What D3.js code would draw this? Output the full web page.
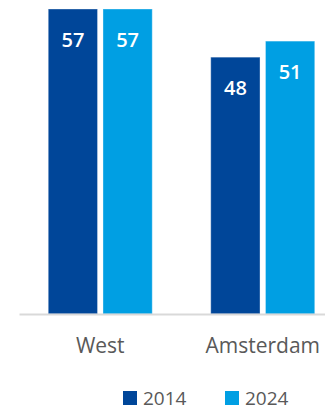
<!DOCTYPE html>
<html>
<head>
	<meta charset="utf-8">
	<script src="https://d3js.org/d3.v7.min.js"></script>
	<style>
		body { margin: 0; background: #fff; }
		text { font-family: "Open Sans", sans-serif; }
	</style>
</head>
<body>
	<div id="chart"></div>
	<script>

	// data
	const categories = ["West", "Amsterdam"]
	const years = ["2014", "2024"]
	const values2014 = [57, 48]
	const values2024 = [57, 51]
	const colors = ["#004699", "#009fe3"]

	const width = 325
	const height = 412
	const baseline = 314

	const rows = categories.map((c, i) => ({
		name: c,
		vals: [
			{ year: years[0], value: values2014[i] },
			{ year: years[1], value: values2024[i] }
		]
	}))

	const svg = d3.select("#chart")
	  .append("svg")
	    .attr("width", width)
	    .attr("height", height)

	// group scale runs past the right edge, like the original
	const x0 = d3.scaleBand()
		.domain(categories)
		.range([19, 344])

	const x1 = d3.scaleBand()
		.domain(years)
		.range([-52, 52])
		.paddingInner(0.1)

	const y = d3.scaleLinear()
		.domain([0, 57])
		.range([baseline, 9])

	const color = d3.scaleOrdinal().domain(years).range(colors)

	const groups = svg.append("g")
	  .selectAll("g")
	  .data(rows)
	  .join("g")
	    .attr("transform", d => `translate(${x0(d.name) + x0.bandwidth() / 2},0)`)

	groups.selectAll("rect")
	  .data(d => d.vals)
	  .join("rect")
	    .attr("x", d => x1(d.year))
	    .attr("y", d => y(d.value))
	    .attr("width", x1.bandwidth())
	    .attr("height", d => baseline - y(d.value))
	    .attr("fill", d => color(d.year))
	    .attr("stroke", "#ffffff")
	    .attr("stroke-opacity", 0.35)
	    .attr("stroke-width", 1)

	groups.selectAll("text.val")
	  .data(d => d.vals)
	  .join("text")
	    .attr("class", "val")
	    .attr("x", d => x1(d.year) + x1.bandwidth() / 2)
	    .attr("y", d => y(d.value) + 38)
	    .attr("text-anchor", "middle")
	    .attr("fill", "#fff")
	    .style("font-size", "20px")
	    .style("font-weight", "600")
	    .text(d => d.value)

	// axis line
	const axis = svg.append("g")
		.attr("transform", `translate(0,${baseline})`)
		.call(d3.axisBottom(x0).tickSize(0).tickPadding(24))
	axis.select(".domain").attr("stroke", "#d9d9d9").attr("stroke-width", 2)
	axis.selectAll("text")
		.attr("fill", "#595959")
		.style("font-size", "21px")
		.style("font-family", "'Open Sans', sans-serif")

	// legend
	const legend = svg.append("g")
	  .selectAll("g")
	  .data(years)
	  .join("g")
	    .attr("transform", (d, i) => `translate(${123 + i * 102},391)`)

	legend.append("rect")
		.attr("width", 14)
		.attr("height", 14)
		.attr("fill", d => color(d))

	legend.append("text")
		.attr("x", 20)
		.attr("y", 14)
		.attr("fill", "#595959")
		.style("font-size", "19px")
		.text(d => d)

	</script>
</body>
</html>
